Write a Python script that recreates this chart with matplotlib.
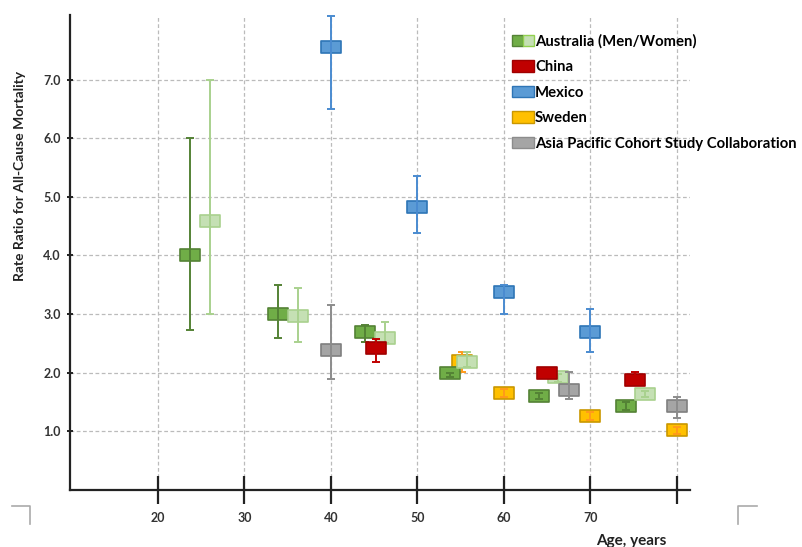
import numpy as np
import matplotlib
matplotlib.use("Agg")
import matplotlib.pyplot as plt
from matplotlib.path import Path
from matplotlib.patches import Patch
from matplotlib.lines import Line2D
from matplotlib.legend_handler import HandlerTuple

plt.rcParams['font.family'] = ['Lato', 'DejaVu Sans']

# Australia, men
aus_men_age = [23.7, 33.9, 43.9, 53.8, 64.0, 74.1]
aus_men_rr = [4.0, 3.0, 2.69, 1.99, 1.6, 1.44]
aus_men_lo = [2.73, 2.6, 2.53, 1.92, 1.55, 1.37]
aus_men_hi = [6.0, 3.5, 2.82, 2.0, 1.65, 1.5]

# Australia, women
aus_wom_age = [26.0, 36.2, 46.2, 55.7, 66.3, 76.3]
aus_wom_rr = [4.58, 2.96, 2.6, 2.19, 1.92, 1.63]
aus_wom_lo = [3.0, 2.53, 2.5, 2.1, 1.85, 1.58]
aus_wom_hi = [7.0, 3.45, 2.87, 2.35, 1.98, 1.68]

# China
china_age = [45.2, 65.0, 75.1]
china_rr = [2.43, 2.0, 1.88]
china_lo = [2.18, 1.95, 1.84]
china_hi = [2.58, 2.05, 2.02]

# Mexico
mexico_age = [40, 50, 60, 70]
mexico_rr = [7.56, 4.83, 3.37, 2.69]
mexico_lo = [6.5, 4.39, 3.0, 2.35]
mexico_hi = [8.09, 5.36, 3.5, 3.08]

# Sweden
sweden_age = [55.1, 60, 70, 80]
sweden_rr = [2.2, 1.65, 1.27, 1.02]
sweden_lo = [2.02, 1.58, 1.2, 0.95]
sweden_hi = [2.35, 1.72, 1.33, 1.08]

# Asia Pacific Cohort Study Collaboration
apcsc_age = [40, 67.5, 80]
apcsc_rr = [2.38, 1.7, 1.44]
apcsc_lo = [1.9, 1.56, 1.22]
apcsc_hi = [3.15, 2.02, 1.58]

x_ticks = [20, 30, 40, 50, 60, 70, 80]
x_labels = ['20', '30', '40', '50', '60', '70', '']
y_ticks = [1, 2, 3, 4, 5, 6, 7]

rect = Path([(-1, -0.6), (1, -0.6), (1, 0.6), (-1, 0.6), (-1, -0.6)],
            [Path.MOVETO, Path.LINETO, Path.LINETO, Path.LINETO, Path.CLOSEPOLY])

fig = plt.figure(figsize=(8.03, 5.47), dpi=100)
ax = fig.add_axes([70 / 803, 57 / 547, 620 / 803, 475 / 547])

# drawing order: Sweden sits underneath the others
series = [
    (sweden_age, sweden_rr, sweden_lo, sweden_hi, '#FFC000', '#C99700', '#FF9A1A'),
    (aus_men_age, aus_men_rr, aus_men_lo, aus_men_hi, '#70AD47', '#548235', '#548235'),
    (aus_wom_age, aus_wom_rr, aus_wom_lo, aus_wom_hi, '#C5E0B4', '#A9D18E', '#A9D18E'),
    (china_age, china_rr, china_lo, china_hi, '#C00000', '#A00000', '#C00000'),
    (mexico_age, mexico_rr, mexico_lo, mexico_hi, '#5B9BD5', '#2E75B6', '#4A8BD0'),
    (apcsc_age, apcsc_rr, apcsc_lo, apcsc_hi, '#A5A5A5', '#7F7F7F', '#8C8C8C'),
]

for i, (age, rr, lo, hi, face, edge, ecol) in enumerate(series):
    rr = np.array(rr)
    yerr = [rr - np.array(lo), np.array(hi) - rr]
    ax.plot(age, rr, linestyle='none', marker=rect, markersize=14.4,
            markerfacecolor=face, markeredgecolor=edge, markeredgewidth=1.2,
            zorder=3 + i * 0.1)
    ax.errorbar(age, rr, yerr=yerr, fmt='none', ecolor=ecol, elinewidth=1.4,
                capsize=3, capthick=1.4, zorder=3.05 + i * 0.1)

ax.set_xlim(9.85, 81.5)
ax.set_ylim(0, 8.1)
ax.set_xticks(x_ticks)
ax.set_xticklabels(x_labels)
ax.set_yticks(y_ticks)
ax.set_yticklabels([f'{v:.1f}' for v in y_ticks])

ax.grid(True, linestyle=(0, (3, 2)), color='#BBBBBB', linewidth=0.9)
ax.set_axisbelow(True)
for s in ['top', 'right']:
    ax.spines[s].set_visible(False)
for s in ['left', 'bottom']:
    ax.spines[s].set_color('#222222')
    ax.spines[s].set_linewidth(1.6)

ax.tick_params(axis='x', direction='inout', length=20, width=1.6, color='#222222',
               labelsize=9, labelcolor='#333333', pad=6)
ax.tick_params(axis='y', direction='inout', length=5, width=1.4, color='#222222',
               labelsize=9, labelcolor='#333333', pad=4)
for lab in ax.get_xticklabels() + ax.get_yticklabels():
    lab.set_fontweight('bold')

fig.text(20 / 803, 1 - 176 / 547, 'Rate Ratio for All-Cause Mortality', rotation=90,
         ha='center', va='center', fontsize=10, fontweight='bold', color='#222222')
fig.text(631 / 803, 1 - 541 / 547, 'Age, years', ha='center', va='center',
         fontsize=11, fontweight='bold', color='#222222')

# crop marks
fig.add_artist(Line2D([12 / 803, 30 / 803, 30 / 803], [1 - 506 / 547, 1 - 506 / 547, 1 - 524 / 547],
                      color='#AAAAAA', linewidth=1.2))
fig.add_artist(Line2D([757 / 803, 738 / 803, 738 / 803], [1 - 506 / 547, 1 - 506 / 547, 1 - 524 / 547],
                      color='#AAAAAA', linewidth=1.2))

handles = [
    (Patch(facecolor='#70AD47', edgecolor='#548235'), Patch(facecolor='#C5E0B4', edgecolor='#92D050')),
    Patch(facecolor='#C00000', edgecolor='#A00000'),
    Patch(facecolor='#5B9BD5', edgecolor='#2E75B6'),
    Patch(facecolor='#FFC000', edgecolor='#C99700'),
    Patch(facecolor='#A5A5A5', edgecolor='#8C8C8C'),
]
labels = ['Australia (Men/Women)', 'China', 'Mexico', 'Sweden',
          'Asia Pacific Cohort Study Collaboration']
fig.legend(handles, labels, loc='upper left', bbox_to_anchor=(512 / 803, 1 - 34 / 547),
           frameon=False, handlelength=1.45, handleheight=0.8, handletextpad=0.1,
           labelspacing=0.78, borderpad=0, borderaxespad=0,
           prop={'size': 10.7, 'weight': 'bold'},
           handler_map={tuple: HandlerTuple(ndivide=None, pad=0)})

fig.savefig('out.png', dpi=100)
